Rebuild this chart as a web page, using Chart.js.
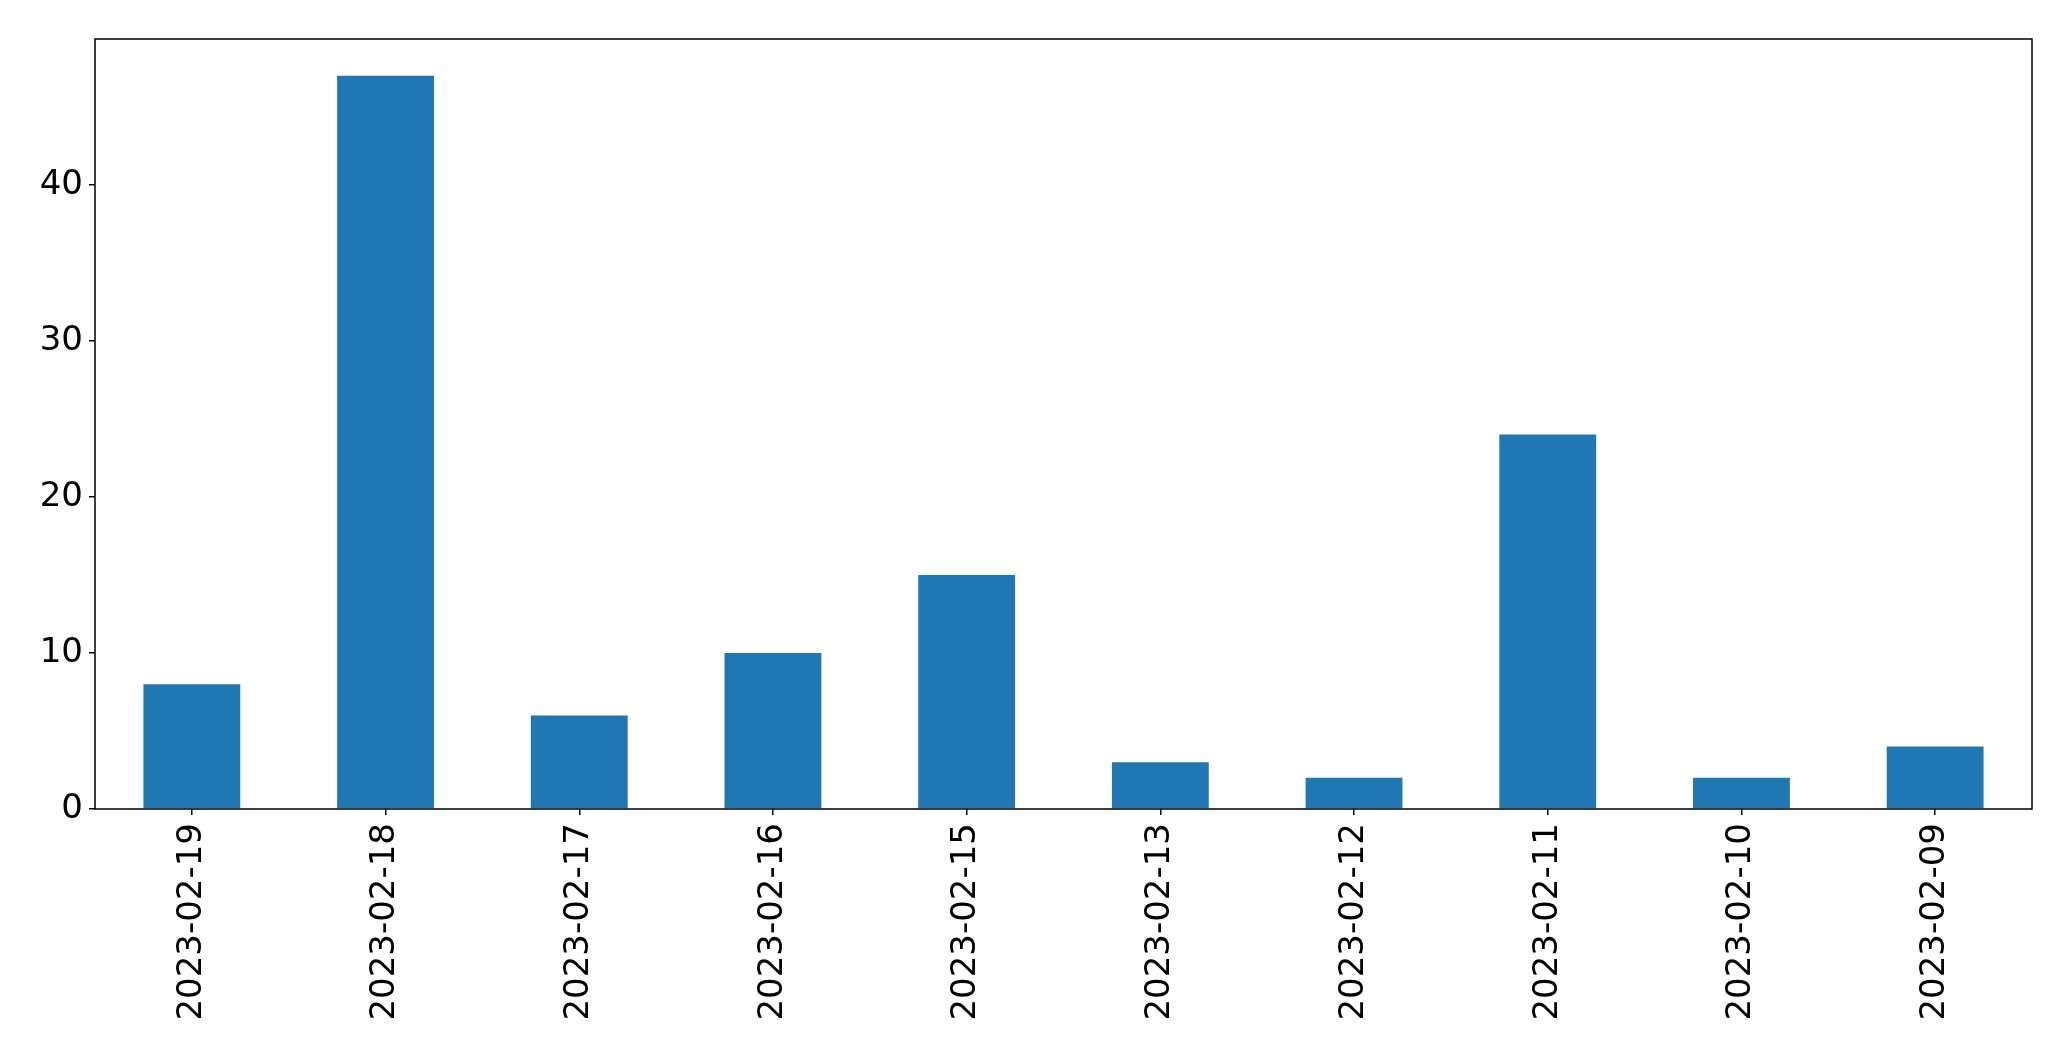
<!DOCTYPE html>
<html>
<head>
<meta charset="utf-8">
<script src="https://cdn.jsdelivr.net/npm/chart.js@4/dist/chart.umd.min.js"></script>
<style>
  html, body { margin: 0; padding: 0; background: #fff; }
  #wrap { width: 2071px; height: 1061px; }
</style>
</head>
<body>
<div id="wrap"><canvas id="barChart" width="2071" height="1061"></canvas></div>
<script>
// dates, newest first (as in the picture)
var dayLabels = ["2023-02-19", "2023-02-18", "2023-02-17", "2023-02-16", "2023-02-15",
                 "2023-02-13", "2023-02-12", "2023-02-11", "2023-02-10", "2023-02-09"];
var dayCounts = [8, 47, 6, 10, 15, 3, 2, 24, 2, 4];
var yTicks = [0, 10, 20, 30, 40];

var barColor = "#1f77b4";
var fontFamily = "'DejaVu Sans', sans-serif";

// matplotlib-like box around the plot area
var framePlugin = {
  id: "frame",
  afterDraw: function(chart) {
    var a = chart.chartArea;
    var ctx = chart.ctx;
    ctx.save();
    ctx.strokeStyle = "#000";
    ctx.lineWidth = 1.5;
    ctx.strokeRect(a.left, a.top, a.right - a.left, a.bottom - a.top);
    ctx.restore();
  }
};

var barConfig = {
  type: "bar",
  data: {
    labels: dayLabels,
    datasets: [{
      data: dayCounts,
      backgroundColor: barColor,
      borderWidth: 0,
      categoryPercentage: 1.0,
      barPercentage: 0.5
    }]
  },
  options: {
    responsive: false,
    animation: false,
    layout: { padding: { top: 39, right: 39, left: 0, bottom: 0 } },
    plugins: {
      legend: { display: false },
      tooltip: { enabled: false }
    },
    scales: {
      x: {
        grid: { display: true, offset: false, drawOnChartArea: false, drawTicks: true, tickLength: 6, color: "#000", lineWidth: 1.5 },
        border: { display: false },
        ticks: {
          color: "#000",
          font: { family: fontFamily, size: 34 },
          minRotation: 90,
          maxRotation: 90,
          padding: 8,
          autoSkip: false
        },
        afterFit: function(scale) { scale.height = 252; }
      },
      y: {
        min: 0,
        max: 49.35,
        grid: { display: true, drawOnChartArea: false, drawTicks: true, tickLength: 6, color: "#000", lineWidth: 1.5 },
        border: { display: false },
        afterBuildTicks: function(scale) {
          scale.ticks = yTicks.map(function(v) { return { value: v }; });
        },
        ticks: {
          color: "#000",
          font: { family: fontFamily, size: 34 },
          padding: 6
        },
        afterFit: function(scale) { scale.width = 95; }
      }
    }
  },
  plugins: [framePlugin]
};

var barChart = new Chart(document.getElementById("barChart"), barConfig);
</script>
</body>
</html>
